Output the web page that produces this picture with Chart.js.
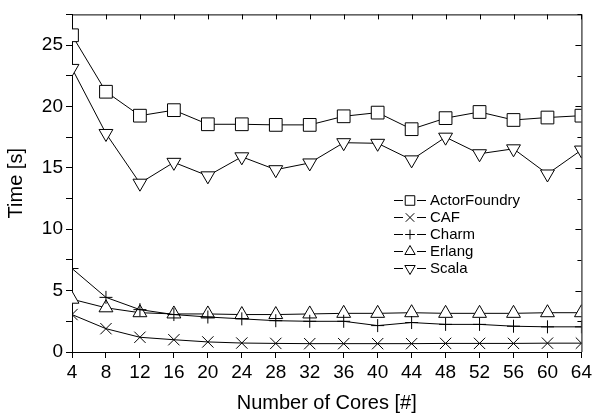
<!DOCTYPE html>
<html>
<head>
<meta charset="utf-8">
<script src="https://cdn.jsdelivr.net/npm/chart.js@4"></script>
<style>
  html, body { margin: 0; padding: 0; background: #fff; }
  #wrap { width: 595px; height: 417px; }
</style>
</head>
<body>
<div id="wrap"><canvas id="grafico"></canvas></div>
<script>
const cores = [4, 8, 12, 16, 20, 24, 28, 32, 36, 40, 44, 48, 52, 56, 60, 64];
const actorFoundry = [25.8, 21.2, 19.25, 19.7, 18.55, 18.55, 18.5, 18.5, 19.2, 19.5, 18.15, 19.05, 19.55, 18.9, 19.1, 19.25];
const caf = [3.05, 1.9, 1.2, 1.0, 0.82, 0.73, 0.7, 0.68, 0.68, 0.68, 0.68, 0.7, 0.7, 0.7, 0.72, 0.72];
const charm = [6.8, 4.45, 3.45, 3.05, 2.85, 2.7, 2.55, 2.5, 2.5, 2.15, 2.4, 2.25, 2.25, 2.1, 2.05, 2.05];
const erlang = [4.3, 3.6, 3.2, 3.1, 3.1, 3.05, 3.05, 3.1, 3.15, 3.15, 3.2, 3.15, 3.15, 3.15, 3.2, 3.2];
const scala = [23.1, 17.8, 13.75, 15.45, 14.35, 15.9, 14.85, 15.4, 17.05, 17.0, 15.65, 17.5, 16.15, 16.55, 14.5, 16.45];
const yMax = 27.5;

const fonte = "'Liberation Sans', Arial, sans-serif";

function serie(label, dados, estilo, raio, rot){
  return {
    label: label,
    data: dados.map((v, i) => ({x: cores[i], y: v})),
    borderColor: "#000",
    borderWidth: 1,
    backgroundColor: "#fff",
    pointStyle: estilo,
    pointRadius: raio,
    pointRotation: rot || 0,
    pointBorderColor: "#000",
    pointBackgroundColor: "#fff",
    pointBorderWidth: 1,
    tension: 0,
    clip: 0
  };
}

const datasets = [
  serie("ActorFoundry", actorFoundry, "rect", 9),
  serie("CAF", caf, "crossRot", 8),
  serie("Charm", charm, "cross", 6.5),
  serie("Erlang", erlang, "triangle", 8),
  serie("Scala", scala, "triangle", 8, 180)
];

// moldura de cima e da direita, ticks para dentro, e legenda dentro do grafico
const extras = {
  id: "extras",
  afterDraw(chart){
    const ctx = chart.ctx;
    const a = chart.chartArea;
    const x = chart.scales.x, y = chart.scales.y;
    ctx.save();
    ctx.strokeStyle = "#000";
    ctx.lineWidth = 1;
    ctx.beginPath();
    ctx.moveTo(a.left, a.top + 0.5); ctx.lineTo(a.right + 0.5, a.top + 0.5);
    ctx.moveTo(a.right + 0.5, a.top); ctx.lineTo(a.right + 0.5, a.bottom);
    cores.forEach(c => {
      const px = Math.round(x.getPixelForValue(c)) + 0.5;
      ctx.moveTo(px, a.top); ctx.lineTo(px, a.top + 5);
    });
    for(let v = 0; v <= yMax; v += 2.5){
      const py = Math.round(y.getPixelForValue(v)) + 0.5;
      const len = v % 5 === 0 ? 6 : 4;
      ctx.moveTo(a.right, py); ctx.lineTo(a.right - len, py);
    }
    ctx.stroke();

    // legenda
    const lx = 394, tx = 430;
    let ly = 200;
    ctx.font = "15px " + fonte;
    ctx.textBaseline = "middle";
    chart.data.datasets.forEach(ds => {
      ctx.beginPath();
      ctx.moveTo(lx, ly + 0.5); ctx.lineTo(lx + 9, ly + 0.5);
      ctx.moveTo(lx + 23, ly + 0.5); ctx.lineTo(lx + 32, ly + 0.5);
      ctx.stroke();
      ctx.fillStyle = "#fff";
      Chart.helpers.drawPoint(ctx, {
        pointStyle: ds.pointStyle, rotation: ds.pointRotation,
        borderWidth: 1, radius: ds.pointRadius * 0.75
      }, lx + 16, ly + 0.5);
      ctx.fillStyle = "#000";
      ctx.fillText(ds.label, tx, ly + 1);
      ly += 17;
    });
    ctx.restore();
  }
};

new Chart(document.getElementById("grafico"), {
  type: "line",
  data: {datasets: datasets},
  plugins: [extras],
  options: {
    responsive: true,
    maintainAspectRatio: false,
    animation: false,
    layout: {padding: {top: 12, right: 12, left: 0, bottom: 0}},
    plugins: {legend: {display: false}, tooltip: {enabled: false}},
    scales: {
      x: {
        type: "linear",
        min: 4, max: 64,
        afterFit: s => { s.height = 65; },
        border: {display: true, color: "#000", width: 1},
        grid: {drawOnChartArea: false, drawTicks: true, tickLength: 6, color: "#000"},
        ticks: {stepSize: 4, color: "#000", padding: 3, maxRotation: 0, font: {family: fonte, size: 19}},
        title: {display: true, text: "Number of Cores [#]", color: "#000", padding: {top: 0, bottom: 2}, font: {family: fonte, size: 20}}
      },
      y: {
        min: 0, max: yMax,
        afterFit: s => { s.width = 72; },
        border: {display: true, color: "#000", width: 1},
        grid: {drawOnChartArea: false, drawTicks: true, color: "#000",
               tickLength: 6},
        ticks: {stepSize: 2.5, color: "#000", padding: 3, font: {family: fonte, size: 19},
                callback: v => v % 5 === 0 ? v : ""},
        title: {display: true, text: "Time [s]", color: "#000", padding: {top: 4, bottom: 0}, font: {family: fonte, size: 20}}
      }
    }
  }
});
</script>
</body>
</html>
